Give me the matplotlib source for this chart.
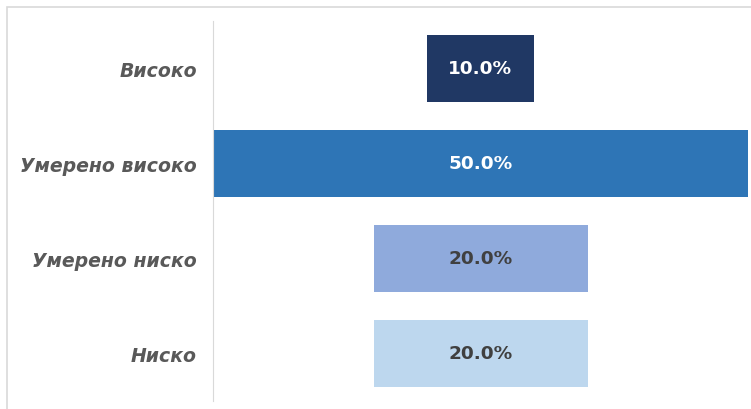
import matplotlib.pyplot as plt
from matplotlib.patches import Rectangle

categories = ["Високо", "Умерено високо", "Умерено ниско", "Ниско"]
shares = [10.0, 50.0, 20.0, 20.0]
bar_colors = ["#203864", "#2E75B6", "#8FAADC", "#BDD7EE"]
label_colors = ["white", "white", "#404040", "#404040"]

plt.rcParams["font.family"] = ["DejaVu Sans"]

fig = plt.figure(figsize=(7.51, 4.10), dpi=100)
ax = fig.add_axes([213 / 751, 1 - 402 / 410, 535 / 751, 380 / 410])

y = list(range(len(categories)))
lefts = [-v / 2 for v in shares]
ax.barh(y, shares, left=lefts, height=0.705, color=bar_colors)

for i, v in enumerate(shares):
    ax.text(0, i, f"{v:.1f}%", ha="center", va="center",
            fontsize=13.3, fontweight="bold", color=label_colors[i])

ax.set_xlim(-25, 25)
ax.set_ylim(len(categories) - 0.5, -0.5)
ax.set_yticks(y)
ax.set_yticklabels(categories, fontsize=13.6, fontweight="bold",
                   fontstyle="italic", color="#595959")
ax.tick_params(axis="y", length=0, pad=11.5)
ax.set_xticks([])

for side in ["top", "right", "bottom"]:
    ax.spines[side].set_visible(False)
ax.spines["left"].set_color("#d9d9d9")

# chart area outline
fig.patches.append(Rectangle((7 / 751, -0.05), 1.0, 1 - 8 / 410 + 0.05,
                             transform=fig.transFigure, fill=False,
                             edgecolor="#d9d9d9", linewidth=1.2))

fig.savefig("out.png", dpi=100)
